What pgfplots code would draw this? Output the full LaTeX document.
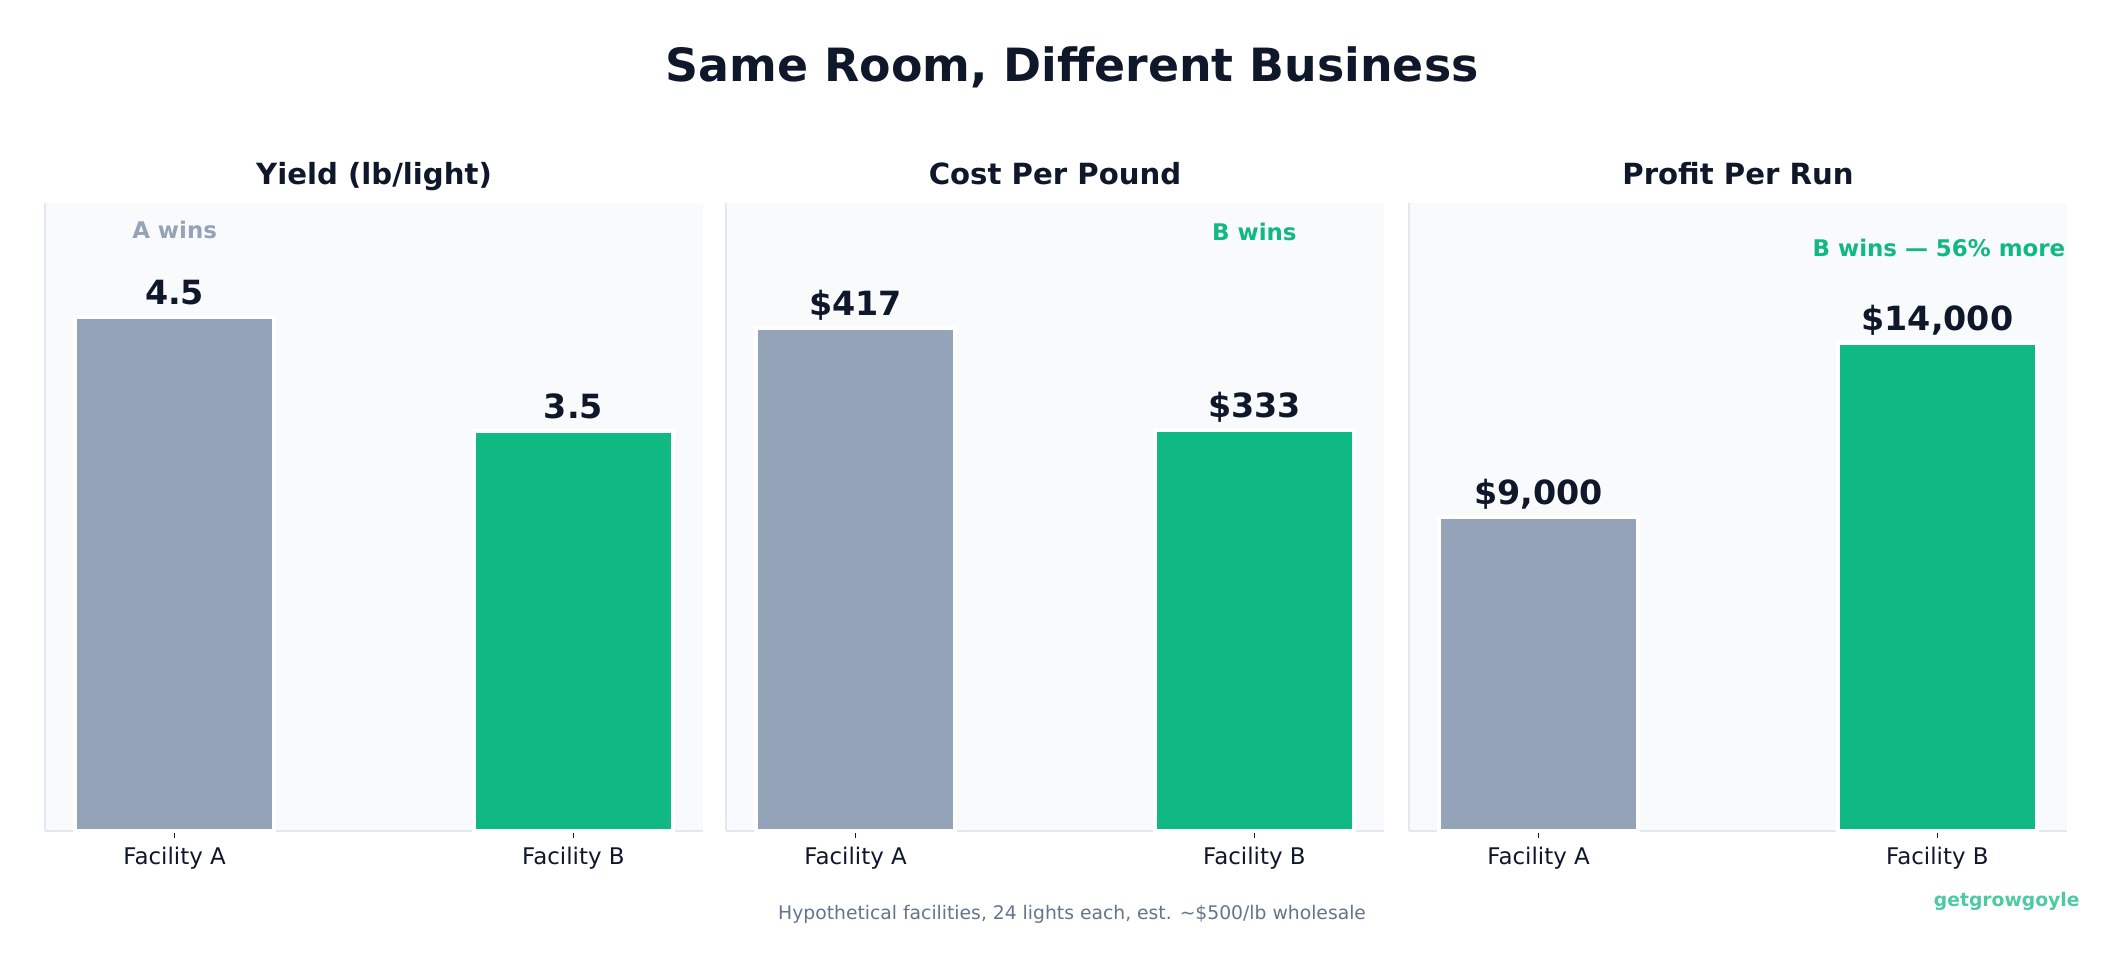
\documentclass[border=0pt]{standalone}
\usepackage{pgfplots}
\pgfplotsset{compat=1.18}
\usepackage{fontspec}
\setmainfont{DejaVu Sans}
\definecolor{dark}{HTML}{0F172A}
\definecolor{slate}{HTML}{94A3B8}
\definecolor{grn}{HTML}{10B981}
\definecolor{bg}{HTML}{F8FAFC}
\definecolor{spine}{HTML}{E2E8F0}
\definecolor{foot}{HTML}{64748B}
\pgfplotsset{panel/.style={
  scale only axis, width=315.84pt, height=301.44pt,
  axis background/.style={fill=bg},
  axis x line*=bottom, axis y line*=left,
  axis line style={spine, line width=0.9pt},
  ytick=\empty, xtick={0,1}, xticklabels={Facility A, Facility B},
  xmin=-0.325, xmax=1.325, ymin=0,
  tick align=outside, major tick length=3.5pt,
  xtick style={dark, line width=0.8pt},
  xticklabel style={font=\fontsize{11}{13}\selectfont, text=dark, anchor=base, yshift=-12.5pt},
  title style={font=\bfseries\fontsize{14}{17}\selectfont, text=dark, at={(0.5,1)}, anchor=base, yshift=3.1pt},
  nodes near coords style={font=\bfseries\fontsize{16}{19}\selectfont, text=dark, anchor=base, yshift=6pt},
  clip=false,
}}
\begin{document}
\begin{tikzpicture}
\path[use as bounding box] (0,0) rectangle (1020pt,464.16pt);
\node[anchor=base, font=\bfseries\fontsize{22}{26}\selectfont, text=dark] at (514.6pt,425pt) {Same Room, Different Business};
% Panel 1
\begin{axis}[panel, at={(21.6pt,65.28pt)}, anchor=south west, ymax=5.5, title={Yield (lb/light)}]
\addplot[ybar, bar width=0.5, bar shift=0pt, fill=slate, draw=white, line width=2pt, nodes near coords={4.5}] coordinates {(0,4.5)};
\addplot[ybar, bar width=0.5, bar shift=0pt, fill=grn, draw=white, line width=2pt, nodes near coords={3.5}] coordinates {(1,3.5)};
\node[anchor=base, font=\bfseries\fontsize{11}{13}\selectfont, text=slate] at (axis cs:0,5.19) {A wins};
\end{axis}
% Panel 2
\begin{axis}[panel, at={(348.48pt,65.28pt)}, anchor=south west, ymax=521, title={Cost Per Pound}]
\addplot[ybar, bar width=0.5, bar shift=0pt, fill=slate, draw=white, line width=2pt, nodes near coords={\$417}] coordinates {(0,417)};
\addplot[ybar, bar width=0.5, bar shift=0pt, fill=grn, draw=white, line width=2pt, nodes near coords={\$333}] coordinates {(1,333)};
\node[anchor=base, font=\bfseries\fontsize{11}{13}\selectfont, text=grn] at (axis cs:1,490.3) {B wins};
\end{axis}
% Panel 3
\begin{axis}[panel, at={(676.32pt,65.28pt)}, anchor=south west, ymax=18000, title={Profit Per Run}]
\addplot[ybar, bar width=0.5, bar shift=0pt, fill=slate, draw=white, line width=2pt, nodes near coords={\$9,000}] coordinates {(0,9000)};
\addplot[ybar, bar width=0.5, bar shift=0pt, fill=grn, draw=white, line width=2pt, nodes near coords={\$14,000}] coordinates {(1,14000)};
\node[anchor=base east, inner sep=0pt, font=\bfseries\fontsize{11}{13}\selectfont, text=grn] at (rel axis cs:0.998,0.9156) {B wins — 56\% more};
\end{axis}
\node[anchor=base, font=\fontsize{9}{11}\selectfont, text=foot] at (514.6pt,23pt) {Hypothetical facilities, 24 lights each, est. \textasciitilde\$500/lb wholesale};
\node[anchor=base east, inner sep=0pt, font=\bfseries\fontsize{9}{11}\selectfont, text=grn!75] at (998.4pt,28.9pt) {getgrowgoyle};
\end{tikzpicture}
\end{document}
